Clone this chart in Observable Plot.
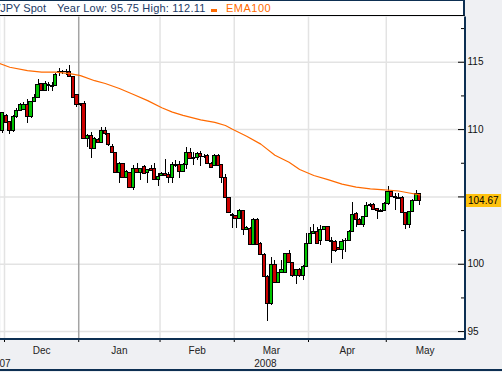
<!DOCTYPE html>
<html><head><meta charset="utf-8">
<script src="https://cdn.jsdelivr.net/npm/d3@7"></script>
<script src="https://cdn.jsdelivr.net/npm/@observablehq/plot@0.6"></script>
<style>
html,body{margin:0;padding:0;background:#eff0f3;}
#wrap{position:relative;width:502px;height:372px;overflow:hidden;background:#eff0f3;font-family:Arial,"Liberation Sans",sans-serif;}
#head{position:absolute;left:0;top:0;width:463px;height:14px;background:#fff;border-top:1px solid #0d2f52;border-bottom:1px solid #000;border-right:2px solid #0d2f52;overflow:hidden;font-size:11px;color:#1b3a66;}
#head span{position:absolute;top:0px;white-space:nowrap;line-height:15px}
#legsw{position:absolute;left:211px;top:8px;width:6px;height:3px;background:#ff6a00}
#chart{position:absolute;left:0;top:16px}
#last{position:absolute;left:466px;width:35px;height:13px;background:#ffc20e;font-size:10px;line-height:13px;color:#000;padding-left:2px;box-sizing:border-box}
#botline{position:absolute;left:0;top:369px;width:502px;height:2px;background:#0d2f52}
</style></head>
<body>
<div id="wrap">
  <div id="head">
    <span style="left:-26px">USD/JPY Spot</span>
    <span style="left:57px;letter-spacing:0.2px">Year Low: 95.75 High: 112.11</span>
    <div id="legsw"></div>
    <span style="left:226px;color:#ff6a00;letter-spacing:0.5px">EMA100</span>
  </div>
  <div id="chart"></div>
  <div id="botline"></div>
</div>
<script>
// trading-day index of first candle (Nov 30 2007 = -1, Dec 3 2007 = 0)
const firstIndex = -1;
const open = [109.86,111.02,110.55,109.86,110.92,111.41,111.46,111.86,110.92,112.03,112.33,113.37,112.87,113.32,113.27,113.22,114.24,114.28,114.26,114.31,113.94,112.58,111.79,111.91,109.31,109.56,108.57,109.26,109.01,109.86,109.68,108.67,108.27,106.79,107.43,106.39,106.76,105.67,107.08,106.79,107.21,106.76,107.08,107.08,106.27,106.56,106.71,106.64,106.42,107.31,107.38,106.84,107.38,108.27,107.80,107.90,108.20,107.95,108.07,107.45,107.33,108.07,107.38,106.42,104.93,103.67,103.55,103.37,103.94,102.56,102.63,101.44,103.30,101.52,100.70,99.04,97.06,99.91,98.60,99.34,99.34,100.77,100.08,99.12,99.54,99.12,99.83,101.52,102.26,102.38,101.76,102.56,102.75,101.71,101.64,101.20,101.07,101.69,101.76,102.38,103.74,103.25,102.93,103.50,104.36,104.41,104.07,103.94,103.94,104.44,105.35,104.98,104.93,104.93,103.79,102.88,103.87,104.73,105.18];
const high = [111.29,111.09,110.60,111.04,111.59,111.91,111.98,112.21,112.08,112.58,113.69,113.42,113.57,113.52,113.47,114.14,114.51,114.38,114.46,114.75,113.96,112.63,111.93,112.11,109.61,109.81,109.41,109.31,110.18,110.18,109.73,108.87,108.32,107.53,107.48,106.96,106.84,107.33,107.45,107.13,107.33,107.06,107.33,107.50,106.71,106.84,107.78,106.84,107.58,107.70,107.63,107.46,108.64,108.57,108.32,108.32,108.37,108.15,108.12,107.58,108.15,108.12,107.41,106.64,104.98,103.74,103.62,104.04,103.99,102.80,102.75,103.37,103.37,101.64,100.77,99.17,100.53,100.28,99.41,100.28,100.82,101.02,100.16,99.59,99.66,99.91,102.26,102.75,102.95,102.75,102.88,102.83,102.80,102.01,101.76,101.27,101.81,101.89,102.51,104.61,103.87,103.37,103.55,104.61,104.49,104.54,104.12,104.04,104.61,105.77,105.43,105.23,105.23,105.03,103.87,103.94,104.78,105.48,105.23];
const low = [109.68,110.42,109.63,109.76,110.84,111.34,111.39,110.47,110.84,111.98,112.30,112.82,112.82,112.82,112.85,113.17,113.96,114.06,114.01,113.92,112.28,111.66,111.74,109.26,108.70,107.88,108.52,108.96,108.99,109.56,108.77,108.22,106.71,105.97,106.34,106.34,105.60,105.48,106.74,106.22,106.66,106.02,106.91,106.22,105.77,106.51,106.51,105.97,105.97,107.21,106.34,106.79,107.01,107.78,107.33,107.70,107.26,107.83,107.41,107.08,107.26,107.28,105.97,104.90,103.74,102.63,102.63,103.30,102.13,102.51,101.39,101.39,101.39,100.65,98.99,95.75,96.94,98.55,98.55,99.29,99.29,100.03,99.04,98.50,99.04,98.79,99.78,101.47,102.21,101.47,101.39,102.51,101.66,100.03,100.90,101.02,100.33,100.90,101.71,102.33,102.75,102.88,102.75,103.45,104.24,103.99,103.30,103.82,103.89,104.39,104.93,103.99,104.83,103.74,102.56,102.63,103.82,104.68,104.36];
const close = [111.24,110.47,109.86,110.97,111.41,111.79,111.86,110.92,112.03,112.38,113.32,112.87,113.37,113.22,113.17,114.06,114.28,114.24,114.31,113.94,112.33,111.79,111.88,109.31,109.56,108.57,109.31,109.01,109.86,109.68,108.87,108.27,106.79,107.43,106.39,106.84,105.67,107.08,106.79,107.08,106.71,107.01,106.96,106.27,106.51,106.71,106.56,106.42,107.38,107.38,106.84,107.38,108.27,107.83,107.88,108.20,107.95,108.00,107.45,107.16,108.07,107.33,106.42,104.93,103.79,103.55,103.37,103.94,102.56,102.70,101.44,103.30,101.44,100.70,99.04,97.06,99.91,98.60,99.34,99.59,100.77,100.08,99.12,99.54,99.12,99.83,101.52,102.26,102.38,101.52,102.56,102.75,101.71,101.64,100.95,101.07,101.64,101.76,102.38,103.69,103.25,102.93,103.50,104.36,104.41,104.04,103.94,103.87,104.44,105.35,104.98,104.93,104.88,103.79,102.88,103.87,104.73,105.18,104.67];

// EMA100 (trading-day index, value)
const emaIdx = [-2,1,6,10,14,18,21,25,28,32,36,40,44,47,50,55,59,62,64,68,72,76,80,83,87,91,95,99,103,107,111,114,117];
const emaVal = [114.92,114.63,114.38,114.26,114.26,114.15,114.01,113.63,113.42,113.05,112.6,112.15,111.62,111.3,111.05,110.72,110.53,110.3,110.02,109.5,108.92,108.1,107.57,107.04,106.59,106.28,105.95,105.73,105.60,105.53,105.44,105.29,105.15];

// axes
const monthLabels = ["Dec","Jan","Feb","Mar","Apr","May"];
const monthStart = [0,21,44,65,86,108,130]; // first trading day of each month (+ June)
const yearLabels = ["2007","2008"];
const yearPos = [-1.9, 73.3];
const yTicks = [95,100,105,110,115];
const yLabelTicks = [95,100,110,115]; // 105 is covered by the last-price badge
const yMinor = [97.5,102.5,107.5,112.5,117.5];
const xDomain = [-1.63, 129.77];
const yDomain = [94.45, 118.36];

const green = "#00c400", red = "#cc0000", navy = "#0d2f52";
const candles = open.map((o,k) => ({i: k + firstIndex, o, h: high[k], l: low[k], c: close[k]}));
const bounds = monthStart.slice(0,6).map(s => s - 0.5);
const monthMid = monthLabels.map((m,k) => (monthStart[k] + monthStart[k+1]) / 2 - 0.5);

const plot = Plot.plot({
  width: 502, height: 356,
  marginLeft: 0, marginRight: 37.5, marginTop: 0.5, marginBottom: 33.5,
  x: {domain: xDomain, axis: null},
  y: {domain: yDomain, axis: null},
  color: {type: "identity"},
  style: {background: "transparent", fontFamily: "Arial, 'Liberation Sans', sans-serif", overflow: "visible"},
  marks: [
    Plot.frame({fill: "#fff", stroke: null}),
    Plot.ruleY(yTicks, {stroke: "#e3e3e3", strokeWidth: 1.5}),
    Plot.ruleX(bounds.filter((b,k) => k !== 1), {stroke: "#e3e3e3", strokeWidth: 1.5}),
    Plot.ruleX([bounds[1]], {stroke: "#a4a4a4", strokeWidth: 1.5}),
    Plot.ruleX(candles, {x: "i", y1: "l", y2: "h", stroke: "#000", strokeWidth: 1, shapeRendering: "crispEdges"}),
    Plot.rect(candles, {x1: d => d.i - 0.45, x2: d => d.i + 0.45, y1: "o", y2: "c",
      fill: d => d.c >= d.o ? green : red, stroke: "#000", strokeWidth: 1, shapeRendering: "crispEdges"}),
    Plot.line(emaIdx.map((x,k) => [x, emaVal[k]]), {x: d => d[0], y: d => d[1], stroke: "#ff6a00", strokeWidth: 1.2, clip: true}),
    Plot.ruleY(yTicks, {insetLeft: 458, stroke: "#000"}),
    Plot.ruleY(yMinor, {insetLeft: 461, stroke: "#000"}),
    Plot.ruleX(bounds, {insetTop: 322, insetBottom: -3.5, stroke: "#000"}),
    Plot.ruleX([xDomain[1]], {stroke: navy, strokeWidth: 2, insetBottom: -1}),
    Plot.ruleY([yDomain[0]], {stroke: navy, strokeWidth: 2, insetRight: -1}),
    Plot.axisY({anchor: "right", ticks: yLabelTicks, tickSize: 0, tickPadding: 2.5, fontSize: 10, fill: "#111", label: null}),
    Plot.text(monthLabels, {x: monthMid, frameAnchor: "bottom", lineAnchor: "middle", dy: 11.5, fontSize: 10, fill: "#222"}),
    Plot.text(yearLabels, {x: yearPos, frameAnchor: "bottom", lineAnchor: "middle", dy: 24.5, fontSize: 10, fill: "#222"})
  ]
});
document.getElementById("chart").appendChild(plot);

// last-price badge placed with the y scale
const lastC = close[close.length - 1];
const yPix = 16 + plot.scale("y").apply(lastC);
const badge = document.createElement("div");
badge.id = "last";
badge.style.top = (yPix - 6.5) + "px";
badge.textContent = lastC.toFixed(2);
document.getElementById("wrap").appendChild(badge);
</script>
</body></html>
